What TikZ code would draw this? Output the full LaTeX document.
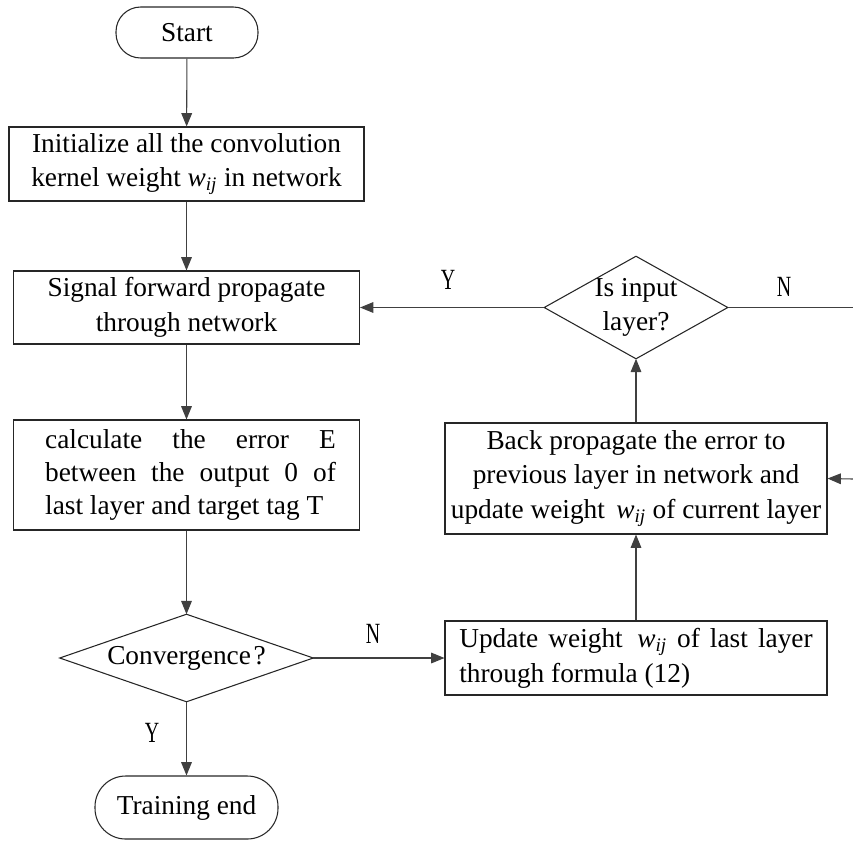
\documentclass[tikz,border=0pt]{standalone}
\usepackage{fontspec}
\setmainfont{Liberation Serif}
\newfontfamily\ynfont[FakeStretch=0.68]{Liberation Serif}
\usetikzlibrary{arrows.meta}
\newcommand{\wij}{\textit{w}\textsubscript{\textit{ij}}}
\begin{document}
\begin{tikzpicture}[x=0.75pt,y=-0.75pt,
  every node/.style={font=\fontsize{20.5}{26}\selectfont},
  box/.style={draw=black!85, line width=0.8pt, rectangle, inner sep=0pt, align=center},
  term/.style={box},
  dia/.style={rectangle, inner sep=0pt, align=center},
  diaedge/.style={draw=black!85, line width=0.8pt},
  conn/.style={draw=black!75, line width=0.8pt, -{Triangle[length=10pt,width=8pt]}},
  plain/.style={draw=black!75, line width=0.8pt},
  yn/.style={font=\fontsize{22}{26}\ynfont}
]
\useasboundingbox (0,0) rectangle (853,840);

% nodes
\node[term, minimum width=106.5pt, minimum height=38.25pt, rounded corners=18.5pt] (start) at (187,32.5) {Start};
\node[box, minimum width=266.25pt, minimum height=55.5pt] (init) at (186.5,164) {Initialize all the convolution\\kernel weight \wij\ in network};
\node[box, minimum width=259.5pt, minimum height=54.75pt] (signal) at (186.5,307.5) {Signal forward propagate\\through network};
\node[box, minimum width=259.5pt, minimum height=82.5pt, font=\fontsize{20.5}{24.75}\selectfont] (calc) at (186.5,475) {\hspace*{6pt}\parbox{218pt}{calculate the error E\linebreak between the output 0 of\linebreak last layer and target tag T}};
\node[dia, minimum width=189.75pt, minimum height=65.25pt] (conv) at (186.5,658) {Convergence\kern2pt?};
\draw[diaedge] (conv.west) -- (conv.north) -- (conv.east) -- (conv.south) -- cycle;
\node[term, minimum width=137.25pt, minimum height=47.25pt, rounded corners=23pt] (end) at (186.5,807.5) {Training end};

\node[dia, minimum width=137.25pt, minimum height=76.5pt] (isin) at (636,307.5) {Is input\\layer?};
\draw[diaedge] (isin.west) -- (isin.north) -- (isin.east) -- (isin.south) -- cycle;
\node[box, minimum width=286.5pt, minimum height=83.25pt] (back) at (636,478.5) {Back propagate the error to\\previous layer in network and\\update weight~\,\wij\ of current layer};
\node[box, minimum width=286.5pt, minimum height=55.5pt] (upd) at (636,658) {\parbox{265pt}{Update weight~\,\wij\ of last layer\linebreak through formula (12)}};

\coordinate (outN) at (853,307.5);
\coordinate (inR) at (853,479);

% connectors
\draw[conn] (start) -- (init);
\draw[conn] (init) -- (signal);
\draw[conn] (signal) -- (calc);
\draw[conn] (calc) -- (conv.north);
\draw[conn] (conv.south) -- (end);
\draw[conn] (conv.east) -- (upd.west);
\draw[conn] (upd) -- (back);
\draw[conn] (back) -- (isin.south);
\draw[conn] (isin.west) -- (signal.east);
\draw[plain] (isin.east) -- (outN);
\draw[conn] (inR) -- (back.east);

% labels
\node[yn] (y1) at (152,733) {Y};
\node[yn] (n1) at (373,634) {N};
\node[yn] (y2) at (448,280) {Y};
\node[yn] (n2) at (784,287) {N};
\end{tikzpicture}
\end{document}
